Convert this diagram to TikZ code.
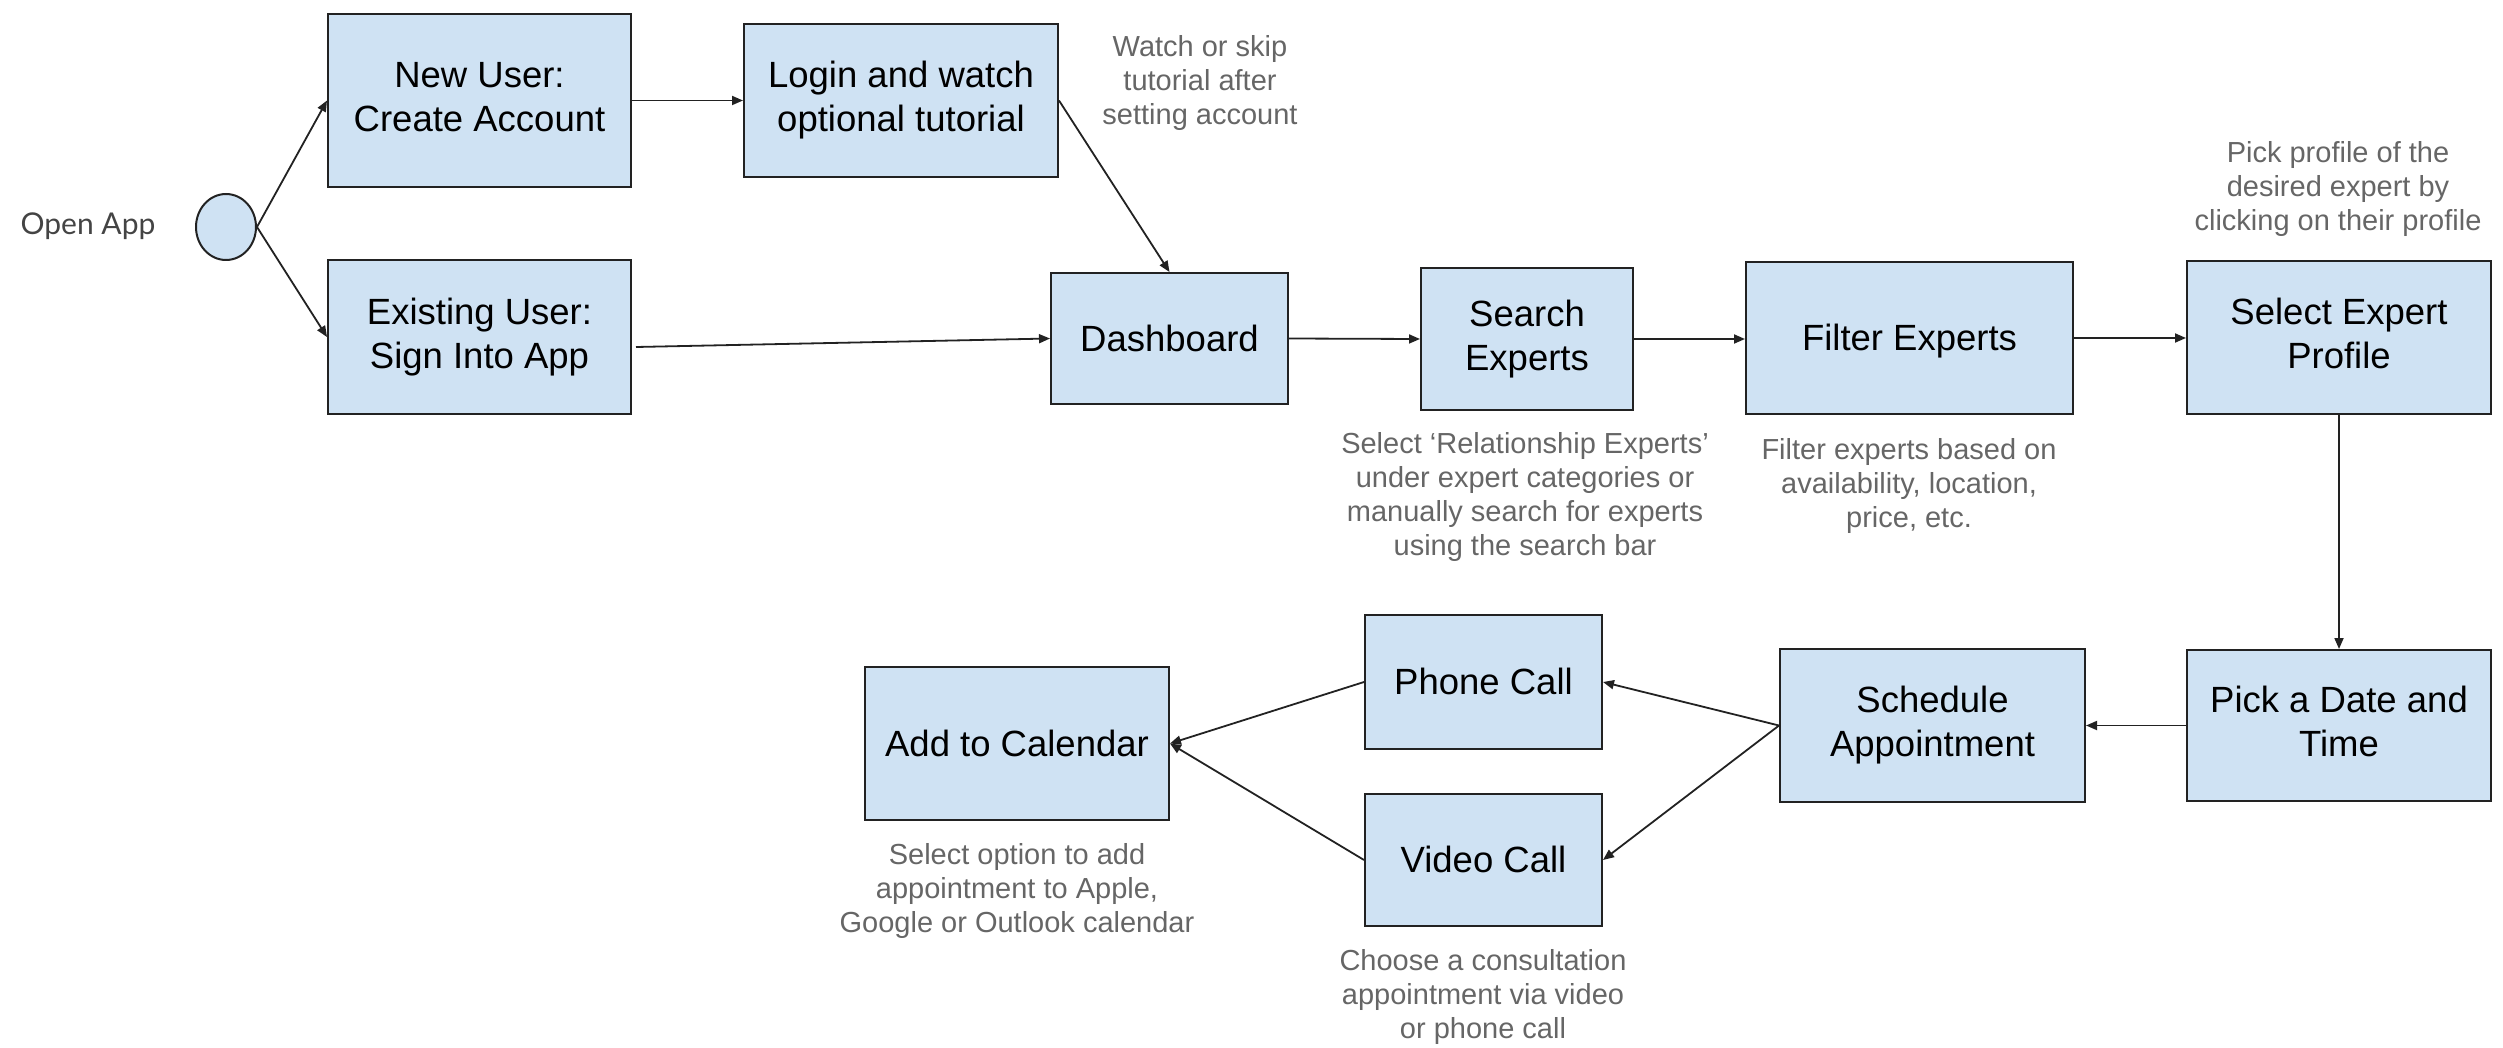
\documentclass[tikz,border=0pt]{standalone}
\usepackage{fontspec}
\setmainfont{Liberation Sans}
\newfontfamily\latofont{Lato}
\usetikzlibrary{arrows.meta,calc,shapes.geometric}
\definecolor{boxfill}{HTML}{CFE2F3}
\definecolor{boxline}{HTML}{222222}
\definecolor{notegray}{HTML}{666666}
\definecolor{labelgray}{HTML}{444444}
% fixed line metrics (ascent 0.905em, descent 0.212em) so that text blocks
% are centred the same way whatever letters they hold
\newcommand\boxstrut{\rule[-7.74pt]{0pt}{40.77pt}}
\newcommand\notestrut{\rule[-6.15pt]{0pt}{32.4pt}}
\begin{document}
\begin{tikzpicture}[x=1pt,y=-1pt,
  box/.style={draw=boxline, line width=2pt, fill=boxfill, align=center,
    inner sep=0pt, text=black, font=\fontsize{36.5}{44}\selectfont,
    execute at begin node=\boxstrut, execute at end node=\boxstrut},
  note/.style={align=center, inner sep=0pt, text=notegray,
    font=\fontsize{29}{34}\selectfont,
    execute at begin node=\notestrut, execute at end node=\notestrut},
  flow/.style={draw=boxline, line width=1.8pt, -{Triangle[length=11pt,width=9pt]}}]
\useasboundingbox (0,0) rectangle (2503,1048);

% start point
\node[ellipse, draw=boxline, line width=2pt, fill=boxfill, minimum width=60pt,
  minimum height=66pt, inner sep=0pt] (start) at (226,227) {};
\node[inner sep=0pt, text=labelgray, font=\latofont\fontsize{30}{36}\selectfont]
  (openapp) at (88,226) {Open App};

% process steps
\node[box, minimum width=303pt, minimum height=173pt] (newuser) at (479.5,100.5) {New User:\\Create Account};
\node[box, minimum width=303pt, minimum height=154pt] (existing) at (479.5,337) {Existing User:\\Sign Into App};
\node[box, minimum width=314pt, minimum height=153pt] (login) at (901,100.5) {Login and watch\\optional tutorial};
\node[box, minimum width=237pt, minimum height=131pt] (dashboard) at (1169.5,338.5) {Dashboard};
\node[box, minimum width=212pt, minimum height=142pt] (search) at (1527,339) {Search\\Experts};
\node[box, minimum width=327pt, minimum height=152pt] (filter) at (1909.5,338) {Filter Experts};
\node[box, minimum width=304pt, minimum height=153pt] (select) at (2339,337.5) {Select Expert\\Profile};
\node[box, minimum width=304pt, minimum height=151pt] (pickdate) at (2339,725.5) {Pick a Date and\\Time};
\node[box, minimum width=305pt, minimum height=153pt] (schedule) at (1932.5,725.5) {Schedule\\Appointment};
\node[box, minimum width=237pt, minimum height=134pt] (phone) at (1483.5,682) {Phone Call};
\node[box, minimum width=237pt, minimum height=132pt] (video) at (1483.5,860) {Video Call};
\node[box, minimum width=304pt, minimum height=153pt] (calendar) at (1017,743.5) {Add to Calendar};

% notes
\node[note] (notewatch) at (1200,83.3) {Watch or skip\\tutorial after\\setting account};
\node[note] (notepick) at (2338,188.7) {Pick profile of the\\desired expert by\\clicking on their profile};
\node[note] (notesearch) at (1525,496.7) {Select ‘Relationship Experts’\\under expert categories or\\manually search for experts\\using the search bar};
\node[note] (notefilter) at (1909,485.7) {Filter experts based on\\availability, location,\\price, etc.};
\node[note] (notecal) at (1017,890.7) {Select option to add\\appointment to Apple,\\Google or Outlook calendar};
\node[note] (notecall) at (1483,996.7) {Choose a consultation\\appointment via video\\or phone call};

% connectors
\draw[flow] (start.east) -- (newuser.west);
\draw[flow] (start.east) -- (existing.west);
\draw[flow] (newuser.east) -- (login.west |- newuser.east);
\draw[flow] (login.east) -- (dashboard.north);
\draw[flow] ($(existing.east)+(4,10)$) -- (dashboard.west);
\draw[flow] (dashboard.east) -- (search.west);
\draw[flow] (search.east) -- (filter.west |- search.east);
\draw[flow] (filter.east) -- (select.west |- filter.east);
\draw[flow] (select.south) -- (pickdate.north);
\draw[flow] (pickdate.west) -- (schedule.east);
\draw[flow] (schedule.west) -- (phone.east);
\draw[flow] (schedule.west) -- (video.east);
\draw[flow] (phone.west) -- (calendar.east);
\draw[flow] (video.west) -- (calendar.east);
\end{tikzpicture}
\end{document}
